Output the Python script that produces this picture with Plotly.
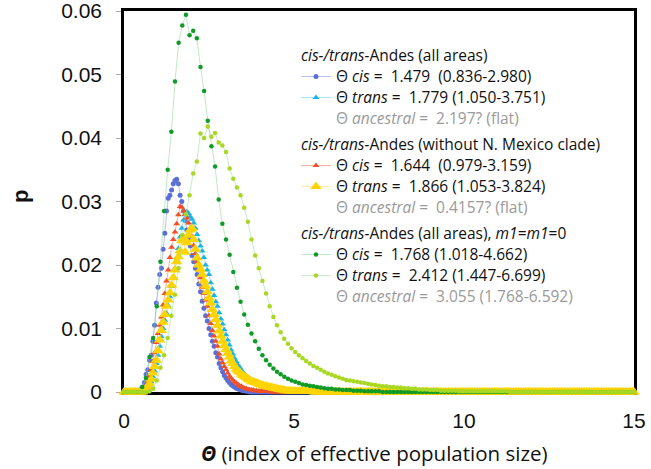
import numpy as np
import plotly.graph_objects as go

# ---------------- data ----------------
# fine grid (step 0.05) for the four "all areas / without N. Mexico" series
theta_fine = np.round(np.arange(301) * 0.05, 2)
# coarse grid (15/140) for the m1=m1=0 series
theta_coarse = np.arange(141) * 15.0 / 140.0

cis_all = [0, 0, 0, 0, 0, 0, 0, 0, 0,
           0.0002, 0.0005, 0.0008, 0.0015, 0.0028, 0.0035, 0.0050, 0.0058, 0.0080, 0.0105,
           0.0140, 0.0165, 0.0185, 0.0195, 0.0225, 0.0250, 0.0285, 0.0305, 0.0310, 0.0318,
           0.0328, 0.0333, 0.0335, 0.0328, 0.0310, 0.0300, 0.0285, 0.0270, 0.0255, 0.0240,
           0.0230, 0.0215, 0.0205, 0.0195, 0.0185, 0.0170, 0.0158, 0.0143, 0.0132, 0.0120,
           0.0112, 0.0100, 0.0090, 0.0080, 0.0072, 0.0062, 0.0055, 0.0045, 0.0038, 0.0032,
           0.0026, 0.0022, 0.0018, 0.0015, 0.0012, 0.0010, 0.0008, 0.0006, 0.0005, 0.0004,
           0.0003, 0.0002, 0.0002, 0.0001, 0.0001]

trans_all = [0, 0, 0, 0, 0, 0, 0, 0, 0, 0, 0, 0,
             0.0002, 0.0004, 0.0007, 0.0011, 0.0016, 0.0024, 0.0033, 0.0045, 0.0058,
             0.0072, 0.0087, 0.0100, 0.0113, 0.0124, 0.0136, 0.0150, 0.0166, 0.0181, 0.0195,
             0.0208, 0.0226, 0.0244, 0.0258, 0.0271, 0.0279, 0.0284, 0.0281, 0.0276, 0.0272,
             0.0266, 0.0258, 0.0248, 0.0238, 0.0230, 0.0222, 0.0212, 0.0200, 0.0192, 0.0185,
             0.0172, 0.0162, 0.0152, 0.0142, 0.0135, 0.0125, 0.0115, 0.0107, 0.0098, 0.0090,
             0.0082, 0.0074, 0.0066, 0.0060, 0.0053, 0.0048, 0.0043, 0.0039, 0.0035, 0.0031,
             0.0028, 0.0025, 0.0023, 0.0021, 0.0019, 0.0017, 0.0016, 0.0015, 0.0014, 0.0013,
             0.0012, 0.0011, 0.0010, 0.0009, 0.0009, 0.0008, 0.0007, 0.0007, 0.0006, 0.0005,
             0.0005, 0.0004, 0.0004, 0.0003, 0.0003, 0.0003, 0.0002, 0.0002, 0.0002, 0.0001,
             0.0001, 0.0001, 0.0001, 0.0001, 0.0001, 0.0001, 0.0001, 0.0001, 0.0001, 0.0001]

cis_noNM = [0, 0, 0, 0, 0, 0, 0, 0, 0, 0, 0,
            0.0002, 0.0005, 0.0010, 0.0016, 0.0025, 0.0035, 0.0048, 0.0062, 0.0078, 0.0092,
            0.0105, 0.0118, 0.0137, 0.0155, 0.0175, 0.0192, 0.0212, 0.0228, 0.0240, 0.0252,
            0.0265, 0.0279, 0.0292, 0.0291, 0.0285, 0.0280, 0.0274, 0.0266, 0.0258, 0.0245,
            0.0231, 0.0218, 0.0205, 0.0192, 0.0180, 0.0165, 0.0155, 0.0145, 0.0135, 0.0120,
            0.0108, 0.0097, 0.0088, 0.0080, 0.0072, 0.0060, 0.0052, 0.0046, 0.0040, 0.0035,
            0.0030, 0.0025, 0.0022, 0.0019, 0.0016, 0.0014, 0.0012, 0.0010, 0.0009, 0.0007,
            0.0006, 0.0005, 0.0004, 0.0004, 0.0003, 0.0003, 0.0002, 0.0002, 0.0001, 0.0001,
            0.0001, 0.0001, 0.0001, 0.0001, 0.0001, 0.0001]

trans_noNM = [0, 0, 0, 0, 0, 0, 0, 0, 0, 0, 0, 0,
              0.0002, 0.0004, 0.0008, 0.0013, 0.0020, 0.0030, 0.0040, 0.0050, 0.0065,
              0.0082, 0.0097, 0.0110, 0.0122, 0.0135, 0.0145, 0.0156, 0.0168, 0.0180, 0.0192,
              0.0205, 0.0213, 0.0222, 0.0238, 0.0243, 0.0220, 0.0235, 0.0247, 0.0255, 0.0258,
              0.0240, 0.0225, 0.0211, 0.0200, 0.0193, 0.0185, 0.0175, 0.0167, 0.0158, 0.0148,
              0.0140, 0.0130, 0.0122, 0.0114, 0.0105, 0.0096, 0.0088, 0.0080, 0.0073, 0.0067,
              0.0061, 0.0055, 0.0049, 0.0045, 0.0040, 0.0036, 0.0033, 0.0031, 0.0028, 0.0026,
              0.0024, 0.0022, 0.0020, 0.0019, 0.0017, 0.0016, 0.0015, 0.0014, 0.0013, 0.0012,
              0.0011, 0.0010, 0.0009, 0.0009, 0.0008, 0.0007, 0.0007, 0.0006, 0.0006, 0.0005,
              0.0004, 0.0004, 0.0003, 0.0003, 0.0002, 0.0002, 0.0002, 0.0001, 0.0001, 0.0001,
              0.0001, 0.0001, 0.0001, 0.0001, 0.0001, 0.0001, 0.0001, 0.0001, 0.0001, 0.0001,
              0.0001]

cis_m0 = [0, 0, 0, 0, 0,
          0.0008, 0.0022, 0.0055, 0.0085, 0.0135, 0.0205, 0.0285, 0.0350, 0.0410, 0.0489,
          0.0550, 0.0577, 0.0594, 0.0562, 0.0569, 0.0557, 0.0512, 0.0474, 0.0427, 0.0387,
          0.0355, 0.0303, 0.0265, 0.0240, 0.0216, 0.0189, 0.0164, 0.0142, 0.0122, 0.0106,
          0.0092, 0.0080, 0.0068, 0.0058, 0.0050, 0.0043, 0.0037, 0.0032, 0.0028, 0.0024,
          0.0021, 0.0018, 0.0016, 0.0014, 0.0012, 0.0011, 0.0010, 0.0009, 0.0008, 0.0007,
          0.0006, 0.0005, 0.0005, 0.0004, 0.0004, 0.0003, 0.0003, 0.0003, 0.0002, 0.0002,
          0.0002, 0.0001, 0.0001, 0.0001, 0.0001, 0.0001]

trans_m0 = [0, 0, 0, 0, 0, 0, 0,
            0.0001, 0.0005, 0.0018, 0.0038, 0.0058, 0.0085, 0.0120, 0.0153, 0.0195, 0.0247,
            0.0280, 0.0310, 0.0344, 0.0363, 0.0407, 0.0400, 0.0418, 0.0402, 0.0408, 0.0393,
            0.0388, 0.0378, 0.0352, 0.0336, 0.0322, 0.0310, 0.0290, 0.0268, 0.0240, 0.0215,
            0.0195, 0.0175, 0.0155, 0.0135, 0.0118, 0.0105, 0.0094, 0.0084, 0.0076, 0.0069,
            0.0063, 0.0058, 0.0053, 0.0049, 0.0045, 0.0041, 0.0038, 0.0035, 0.0032, 0.0029,
            0.0027, 0.0025, 0.0023, 0.0021, 0.0019, 0.0018, 0.0017, 0.0016, 0.0015, 0.0014,
            0.0013, 0.0012, 0.0011, 0.0010, 0.0009, 0.0009, 0.0008, 0.0008, 0.0007, 0.0007,
            0.0006, 0.0006, 0.0005, 0.0005, 0.0004, 0.0004, 0.0004, 0.0003, 0.0003, 0.0003,
            0.0002, 0.0002, 0.0002, 0.0002, 0.0002, 0.0001, 0.0001, 0.0001, 0.0001, 0.0001,
            0.0001, 0.0001, 0.0001, 0.0001, 0.0001, 0.0001, 0.0001, 0.0001, 0.0001]

# remaining grid points read as zero
cis_all += [0.0] * (len(theta_fine) - len(cis_all))
trans_all += [0.0] * (len(theta_fine) - len(trans_all))
cis_noNM += [0.0] * (len(theta_fine) - len(cis_noNM))
trans_noNM += [0.0] * (len(theta_fine) - len(trans_noNM))
cis_m0 += [0.0] * (len(theta_coarse) - len(cis_m0))
trans_m0 += [0.0] * (len(theta_coarse) - len(trans_m0))

group_titles = ["<i>cis-/trans-</i>Andes (all areas)",
                "<i>cis-/trans-</i>Andes (without N. Mexico clade)",
                "<i>cis-/trans-</i>Andes (all areas), <i>m1</i>=<i>m1</i>=0"]
NB = "\u00a0"
names = [
    f"Θ <i>cis</i>{NB}={NB}{NB}1.479{NB}{NB}(0.836-2.980)",
    f"Θ <i>trans</i>{NB}={NB}{NB}1.779 (1.050-3.751)",
    f"Θ <i>cis</i>{NB}={NB}{NB}1.644{NB}{NB}(0.979-3.159)",
    f"Θ <i>trans</i>{NB}={NB}{NB}1.866 (1.053-3.824)",
    f"Θ <i>cis</i>{NB}={NB}{NB}1.768 (1.018-4.662)",
    f"Θ <i>trans</i>{NB}={NB}{NB}2.412 (1.447-6.699)",
]
ancestral = [
    f"Θ <i>ancestral</i>{NB}={NB}{NB}2.197? (flat)",
    f"Θ <i>ancestral</i>{NB}={NB}{NB}0.4157? (flat)",
    f"Θ <i>ancestral</i>{NB}={NB}{NB}3.055 (1.768-6.592)",
]

# ---------------- styles ----------------
TXT = "font-size:15.5px"
styles = [
    dict(mc="#5a6fd8", lc="rgba(130,140,225,0.55)", sym="circle", size=5),
    dict(mc="#19b4ea", lc="rgba(110,210,245,0.6)", sym="triangle-up", size=6),
    dict(mc="#f0502a", lc="rgba(245,120,90,0.6)", sym="triangle-up", size=6),
    dict(mc="#ffd400", lc="rgba(255,220,110,0.6)", sym="triangle-up", size=10),
    dict(mc="#109a28", lc="rgba(140,215,150,0.55)", sym="circle", size=4.5),
    dict(mc="#a8d822", lc="rgba(150,220,150,0.55)", sym="circle", size=4.5),
]
series = [(theta_fine, cis_all), (theta_fine, trans_all),
          (theta_fine, cis_noNM), (theta_fine, trans_noNM),
          (theta_coarse, cis_m0), (theta_coarse, trans_m0)]

fig = go.Figure()
for g in range(3):
    for j in range(2):
        i = 2 * g + j
        xs, ys = series[i]
        st = styles[i]
        fig.add_trace(go.Scatter(
            x=xs, y=ys, mode="lines+markers",
            name=f"<span style='{TXT}'>{names[i]}</span>",
            legendgroup=f"g{g}",
            legendgrouptitle=dict(text=f"<span style='{TXT}'>{group_titles[g]}</span>") if j == 0 else None,
            line=dict(color=st["lc"], width=1),
            marker=dict(color=st["mc"], symbol=st["sym"], size=st["size"], line=dict(width=0)),
            cliponaxis=False,
        ))
    fig.add_trace(go.Scatter(
        x=[None], y=[None], mode="lines", legendgroup=f"g{g}",
        name=f"<span style='{TXT};color:#9a9a9a'>{ancestral[g]}</span>",
        line=dict(color="rgba(0,0,0,0)", width=1), hoverinfo="skip",
    ))

# target plot box in window pixels: x 124..634, y 11..392 (body margin removed below)
W, H = 651, 469
PL, PR, PT, PB = 124, 634, 11, 392
L, R, T, B = PL, W - PR, PT, H - PB
pw, ph = PR - PL, PB - PT

fig.update_layout(
    width=W, height=H,
    margin=dict(l=L, r=R, t=T, b=B, autoexpand=False),
    paper_bgcolor="white", plot_bgcolor="white",
    showlegend=True,
    legend=dict(
        x=(296 - PL) / pw, y=1 - (40 - PT) / ph, xanchor="left", yanchor="top",
        bgcolor="rgba(0,0,0,0)", borderwidth=0,
        font=dict(family="Open Sans", size=13.85, color="#111"),
        grouptitlefont=dict(family="Open Sans", size=13.85, color="#111"),
        tracegroupgap=5, traceorder="grouped",
    ),
    xaxis=dict(range=[0, 15], dtick=5, tick0=0, showgrid=False, zeroline=False,
               showline=True, linecolor="black", linewidth=2.5, mirror=True,
               ticks="", layer="below traces", ticklabelstandoff=8, automargin=False,
               ticklabeloverflow="allow",
               tickfont=dict(family="Liberation Sans", size=21, color="#111")),
    yaxis=dict(range=[0, 0.06], dtick=0.01, tick0=0, showgrid=False, zeroline=False,
               showline=True, linecolor="black", linewidth=2.5, mirror=True,
               ticks="outside", ticklen=5, tickcolor="#aaaaaa", tickwidth=1,
               layer="below traces", ticklabelstandoff=10, automargin=False,
               ticklabeloverflow="allow",
               tickfont=dict(family="Liberation Sans", size=21, color="#111")),
    annotations=[
        dict(text="<b><i>Θ</i></b> (index of effective population size)",
             xref="paper", yref="paper", x=(374 - PL) / pw, y=-(453 - PB) / ph,
             xanchor="center", yanchor="middle", showarrow=False,
             font=dict(family="Open Sans", size=20.5, color="#111")),
        dict(text="<b>p</b>", xref="paper", yref="paper",
             x=(20 - PL) / pw, y=(PB - 197) / ph, textangle=-90,
             xanchor="center", yanchor="middle", showarrow=False,
             font=dict(family="Liberation Sans", size=22, color="#111")),
    ],
)

fig.write_html("out.html",
               config={"displayModeBar": False},
               post_script="document.body.style.margin='0';document.body.style.overflow='hidden';")
